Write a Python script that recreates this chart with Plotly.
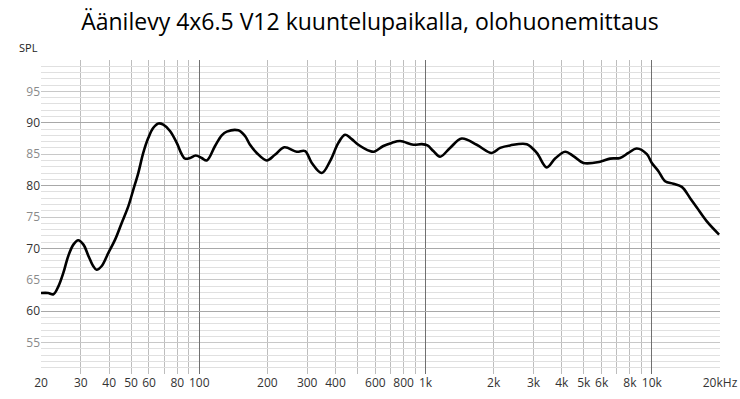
import math
import plotly.graph_objects as go

title = "Äänilevy 4x6.5 V12 kuuntelupaikalla, olohuonemittaus"

freq_hz = [20, 21.5, 22.7, 23.9, 25.1, 26.4, 27.8, 29.2, 30.8, 32.4, 34.0, 35.2,
           37.1, 39.7, 42.5, 45.5, 48.6, 51.2, 53.8, 56.6, 59.6, 62.7, 66.0, 69.4,
           74.3, 79.6, 83.7, 86.6, 91.1, 96.5, 102.6, 108, 117.5, 125.8, 132.4,
           148.9, 159.4, 167.7, 179.6, 198.8, 216, 237.7, 269.7, 293.6, 314.4,
           348, 378.6, 412, 440.8, 472, 504.8, 568.6, 592, 651, 709, 772, 884,
           963, 1020, 1083, 1159, 1283, 1445, 1683, 1961, 2135, 2364, 2801, 3101,
           3433, 3736, 4136, 4500, 4984, 5906, 6538, 7239, 7876, 8582, 9502,
           9997, 10690, 11440, 12450, 13560, 14760, 15800, 17490, 19820]
spl_db = [62.9, 62.9, 62.7, 64.0, 66.1, 68.8, 70.6, 71.3, 70.6, 68.8, 67.2, 66.6,
          67.2, 69.3, 71.4, 74.1, 76.7, 79.4, 82.0, 85.2, 87.6, 89.2, 89.9, 89.7,
          88.7, 86.8, 85.0, 84.3, 84.4, 84.8, 84.4, 84.0, 86.3, 88.0, 88.6,
          88.8, 87.9, 86.5, 85.2, 84.0, 84.9, 86.1, 85.4, 85.5, 83.6,
          82.0, 83.9, 86.8, 88.1, 87.4, 86.5, 85.5, 85.4, 86.3, 86.8, 87.1, 86.5,
          86.6, 86.4, 85.5, 84.6, 86.0, 87.5, 86.5, 85.2, 86.0, 86.4, 86.6, 85.2,
          82.9, 84.3, 85.4, 84.7, 83.6, 83.8, 84.3, 84.4, 85.2, 85.9, 85.0,
          83.6, 82.3, 80.7, 80.3, 79.8, 78.0, 76.5, 74.3, 72.2]

x_tick_vals = [20, 30, 40, 50, 60, 80, 100, 200, 300, 400, 600, 800, 1000,
               2000, 3000, 4000, 5000, 6000, 8000, 10000, 20000]
x_tick_text = ["20", "30", "40", "50", "60", "80", "100", "200", "300", "400",
               "600", "800", "1k", "2k", "3k", "4k", "5k", "6k", "8k", "10k", "20kHz"]
x_grid_vals = [m * d for d in (10, 100, 1000) for m in range(2, 10)] + [10000, 20000]
x_decades = [100, 1000, 10000]

y_tick_vals = [55, 60, 65, 70, 75, 80, 85, 90, 95]
y_tick_text = ['<span style="color:#8a8a8a">55</span>', "60",
               '<span style="color:#8a8a8a">65</span>', "70",
               '<span style="color:#8a8a8a">75</span>', "80",
               '<span style="color:#8a8a8a">85</span>', "90",
               '<span style="color:#8a8a8a">95</span>']
y_major = [60, 70, 80, 90, 100]

xr = [math.log10(20), math.log10(20000)]
yr = [50, 100]

W, H = 740, 399
ML, MR, MT, MB = 41, 20, 60, 25
PW = W - ML - MR

fig = go.Figure()
fig.add_trace(go.Scatter(x=[], y=[], xaxis="x2", yaxis="y2", showlegend=False))
fig.add_trace(go.Scatter(x=freq_hz, y=spl_db, mode="lines",
                         line=dict(color="black", width=2.6, shape="spline", smoothing=1.0),
                         showlegend=False, hoverinfo="skip"))

font_family = "Open Sans, Noto Sans, DejaVu Sans, sans-serif"

fig.update_layout(
    width=W, height=H,
    margin=dict(l=ML, r=MR, t=MT, b=MB),
    paper_bgcolor="white", plot_bgcolor="white",
    font=dict(family=font_family, size=12, color="#333333"),
    hovermode=False,
    title=dict(text=title, x=370 / W, xanchor="center", y=1 - 22 / H, yanchor="middle",
               font=dict(family=font_family, size=23, color="black")),
    xaxis=dict(type="log", range=xr, tickmode="array", tickvals=x_tick_vals,
               ticktext=x_tick_text, showgrid=False, ticks="", zeroline=False,
               showline=False, automargin=False, tickfont=dict(size=12, color="#333333"),
               minor=dict(tickmode="array", tickvals=x_grid_vals, showgrid=True,
                          gridcolor="#bdbdbd", gridwidth=1, ticks="")),
    yaxis=dict(range=yr, tickmode="array", tickvals=y_tick_vals, ticktext=y_tick_text,
               showgrid=True, gridcolor="#c8c8c8", gridwidth=1, ticks="",
               zeroline=False, automargin=False, tickfont=dict(size=12, color="#333333"),
               minor=dict(dtick=1, showgrid=True, gridcolor="#e0e0e0", gridwidth=1, ticks="")),
    xaxis2=dict(type="log", range=xr, overlaying="x", tickmode="array",
                tickvals=x_decades, showticklabels=False, showgrid=True,
                gridcolor="#707070", gridwidth=1, ticks="", zeroline=False, automargin=False),
    yaxis2=dict(range=yr, overlaying="y", tickmode="array", tickvals=y_major,
                showticklabels=False, showgrid=True, gridcolor="#a8a8a8",
                gridwidth=1, ticks="", zeroline=False, automargin=False),
    annotations=[dict(text="SPL", xref="paper", yref="paper", x=-12.5 / PW, y=1.0,
                      xanchor="center", yanchor="bottom", yshift=3, showarrow=False,
                      font=dict(family=font_family, size=11, color="#222222"))],
)

fig.write_html("out.html",
               config={"displayModeBar": False, "staticPlot": True},
               post_script="document.body.style.margin='0';document.body.style.overflow='hidden';")
